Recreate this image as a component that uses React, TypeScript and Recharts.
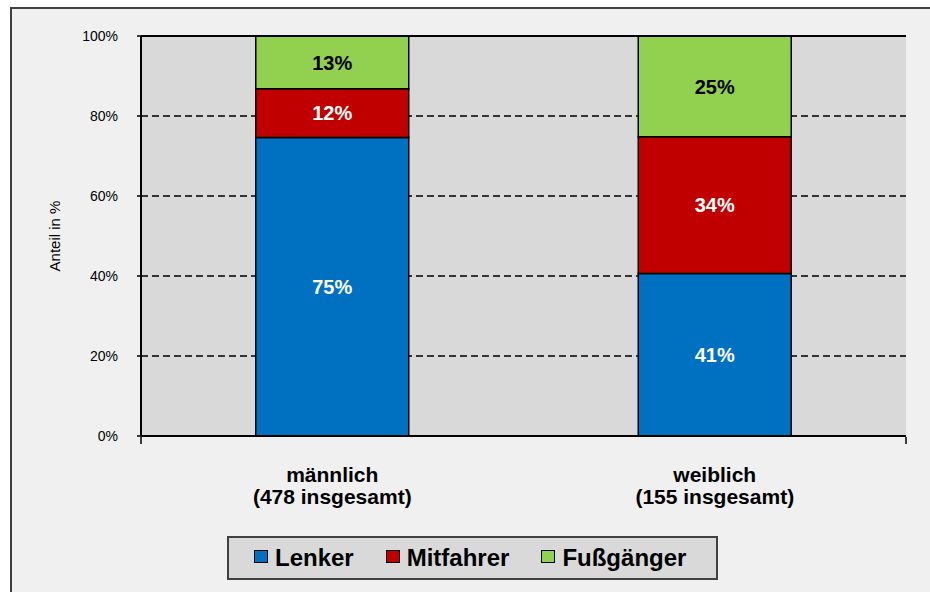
import { BarChart, Bar, XAxis, YAxis, CartesianGrid, Legend, LabelList, ReferenceLine } from "recharts";

const categories = ["männlich", "weiblich"];
const totals = [478, 155];
const lenker = [74.6, 40.6];
const mitfahrer = [12.2, 34.2];
const fussgaenger = [13.2, 25.2];
const seriesOrder = ["Lenker", "Mitfahrer", "Fußgänger"];
const yTicks = [0, 20, 40, 60, 80, 100];
const gridValues = [20, 40, 60, 80];
const frameTicks = [0, 1, 2];

const data = categories.map((name, i) => ({
  name,
  total: totals[i],
  lenker: lenker[i],
  mitfahrer: mitfahrer[i],
  fussgaenger: fussgaenger[i],
}));

const FONT = "Arial, 'Liberation Sans', sans-serif";
const pct = (v: unknown) => `${Math.round(Number(v))}%`;

const CategoryTick = ({ x, y, index, payload }: any) => (
  <text x={x} y={y} textAnchor="middle" fontSize={21} fontWeight="bold" fill="#000">
    <tspan x={x} dy={46}>{payload.value}</tspan>
    <tspan x={x} dy={22}>({totals[index]} insgesamt)</tspan>
  </text>
);

const LegendBox = ({ payload }: any) => (
  <div
    style={{
      boxSizing: "border-box",
      width: 491,
      height: 44,
      background: "#d9d9d9",
      border: "2px solid #404040",
      display: "flex",
      alignItems: "center",
      paddingLeft: 25,
      gap: 32,
      fontFamily: FONT,
    }}
  >
    {(payload || []).map((p: any) => (
      <div key={p.value} style={{ display: "flex", alignItems: "center" }}>
        <span
          style={{
            display: "inline-block",
            width: 12,
            height: 11,
            background: p.color,
            border: "1.5px solid #000",
            marginRight: 7,
            transform: "translateY(-2px)",
          }}
        />
        <span style={{ fontSize: 24, fontWeight: "bold", color: "#000", lineHeight: 1 }}>{p.value}</span>
      </div>
    ))}
  </div>
);

export default function App() {
  return (
    <div style={{ position: "fixed", left: 0, top: 0, width: 930, height: 592, overflow: "hidden", background: "#fff" }}>
      <div
        style={{
          position: "absolute",
          left: 10,
          top: 7,
          width: 960,
          height: 620,
          boxSizing: "border-box",
          border: "2px solid #404040",
          background: "#f0f0f0",
        }}
      />
      <div style={{ position: "absolute", left: 0, top: 0, fontFamily: FONT }}>
        <BarChart
          width={930}
          height={592}
          data={data}
          barCategoryGap="30%"
          margin={{ top: 36, right: 24, bottom: 154, left: 0 }}
        >
          <CartesianGrid
            vertical={false}
            horizontalValues={gridValues}
            stroke="#000"
            strokeWidth={1.5}
            strokeDasharray="7 4"
            fill="#d9d9d9"
            fillOpacity={1}
          />
          <XAxis dataKey="name" height={1} axisLine={false} tickLine={false} tickSize={0} tickMargin={0} tick={<CategoryTick />} interval={0} />
          <XAxis
            xAxisId="frame"
            type="number"
            domain={[0, 2]}
            ticks={frameTicks}
            allowDataOverflow
            height={1}
            axisLine={false}
            tickLine={{ stroke: "#000", strokeWidth: 1.5 }}
            tickSize={7}
            tickFormatter={() => ""}
          />
          <YAxis
            width={141}
            domain={[0, 100]}
            ticks={yTicks}
            tickFormatter={(v) => `${v}%`}
            axisLine={{ stroke: "#000", strokeWidth: 2 }}
            tickLine={{ stroke: "#000", strokeWidth: 1.5 }}
            tickSize={4}
            tickMargin={19}
            tick={{ fontSize: 14, fill: "#000" }}
            label={{
              content: ({ viewBox }: any) => (
                <text
                  x={viewBox.x + 60}
                  y={viewBox.y + viewBox.height / 2}
                  transform={`rotate(-90 ${viewBox.x + 60} ${viewBox.y + viewBox.height / 2})`}
                  textAnchor="middle"
                  fontSize={15}
                  fill="#000"
                >
                  Anteil in %
                </text>
              ),
            }}
          />
          <Legend
            layout="horizontal"
            verticalAlign="middle"
            align="center"
            itemSorter={(item: any) => seriesOrder.indexOf(item.value)}
            content={<LegendBox />}
            wrapperStyle={{ left: 227, top: 536, width: 491, height: 44 }}
          />
          <Bar dataKey="lenker" name="Lenker" stackId="a" fill="#0070C0" stroke="#000" strokeWidth={1.5} isAnimationActive={false}>
            <LabelList dataKey="lenker" position="center" formatter={pct} fill="#fff" fontSize={20} fontWeight="bold" />
          </Bar>
          <Bar dataKey="mitfahrer" name="Mitfahrer" stackId="a" fill="#C00000" stroke="#000" strokeWidth={1.5} isAnimationActive={false}>
            <LabelList dataKey="mitfahrer" position="center" formatter={pct} fill="#fff" fontSize={20} fontWeight="bold" />
          </Bar>
          <Bar dataKey="fussgaenger" name="Fußgänger" stackId="a" fill="#92D050" stroke="#000" strokeWidth={1.5} isAnimationActive={false}>
            <LabelList dataKey="fussgaenger" position="center" formatter={pct} fill="#000" fontSize={20} fontWeight="bold" />
          </Bar>
          <ReferenceLine y={100} stroke="#000" strokeWidth={2} ifOverflow="visible" />
          <ReferenceLine y={0} stroke="#000" strokeWidth={2} ifOverflow="visible" />
          <ReferenceLine x={2} xAxisId="frame" stroke="#000" strokeWidth={2} ifOverflow="visible" />
        </BarChart>
      </div>
    </div>
  );
}
